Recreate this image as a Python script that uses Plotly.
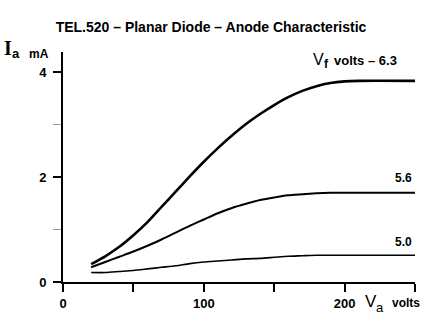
import plotly.graph_objects as go

# Anode voltage (V) and anode current (mA) for three filament voltages
va_63 = [20, 30, 40, 50, 60, 70, 80, 90, 100, 110, 120, 130, 140, 150, 160, 170, 180, 190, 200, 210, 250]
ia_63 = [0.34, 0.49, 0.67, 0.89, 1.14, 1.43, 1.72, 2.01, 2.29, 2.55, 2.79, 3.01, 3.20, 3.37, 3.52, 3.64, 3.73, 3.79, 3.82, 3.83, 3.83]

va_56 = [20, 30, 40, 50, 60, 70, 80, 90, 100, 110, 120, 130, 140, 150, 160, 170, 180, 190, 250]
ia_56 = [0.28, 0.38, 0.48, 0.58, 0.69, 0.81, 0.94, 1.07, 1.19, 1.31, 1.41, 1.49, 1.56, 1.61, 1.65, 1.67, 1.69, 1.70, 1.70]

va_50 = [20, 30, 40, 50, 60, 70, 80, 90, 100, 110, 120, 130, 140, 150, 160, 170, 180, 250]
ia_50 = [0.18, 0.18, 0.20, 0.22, 0.25, 0.28, 0.31, 0.35, 0.38, 0.40, 0.42, 0.44, 0.45, 0.47, 0.49, 0.50, 0.51, 0.51]

x_ticks = [0, 50, 100, 150, 200, 250]
x_ticktext = ["0", "", "100", "", "200", ""]
y_ticks = [0, 2, 4]
y_ticktext = ["0", "2", "4"]

SANS = "Liberation Sans, Arial, sans-serif"
SERIF = "Liberation Serif, Times New Roman, serif"

fig = go.Figure()
for va, ia, w in [(va_63, ia_63, 2.6), (va_56, ia_56, 2.0), (va_50, ia_50, 1.6)]:
    fig.add_trace(go.Scatter(x=va, y=ia, mode="lines",
                             line=dict(color="black", width=w, shape="spline", smoothing=0.6),
                             hoverinfo="skip", showlegend=False))

tick_font = dict(family=SANS, size=13, color="black", weight="bold")

fig.update_layout(
    width=434, height=328,
    margin=dict(l=63, r=19, t=52, b=46),
    paper_bgcolor="white", plot_bgcolor="white",
    title=dict(text="TEL.520 – Planar Diode – Anode Characteristic",
               x=211 / 434, xanchor="center", y=1 - 27 / 328, yanchor="middle",
               font=dict(family=SANS, size=14, color="black", weight="bold")),
    xaxis=dict(range=[0, 250], showline=True, linecolor="black", linewidth=2,
               ticks="outside", ticklen=8, tickwidth=1.5, tickcolor="black",
               tickvals=x_ticks, ticktext=x_ticktext, tickfont=tick_font,
               showgrid=False, zeroline=False, fixedrange=True),
    yaxis=dict(range=[0, 4.38], showline=True, linecolor="black", linewidth=2,
               ticks="outside", ticklen=8, tickwidth=1.5, tickcolor="black",
               tickvals=y_ticks, ticktext=y_ticktext, tickfont=tick_font,
               ticklabelstandoff=4,
               minor=dict(tickvals=[1, 3], ticks="outside", ticklen=8,
                          tickwidth=1.2, tickcolor="#9a9a9a"),
               showgrid=False, zeroline=False, fixedrange=True),
)


def label(text, x, y, xshift, yshift, size, family=SANS, bold=True, xanchor="center",
          xref="paper", yref="paper"):
    fig.add_annotation(xref=xref, yref=yref, x=x, y=y, xshift=xshift, yshift=yshift,
                       xanchor=xanchor, yanchor="middle", showarrow=False, text=text,
                       font=dict(family=family, size=size, color="black",
                                 weight="bold" if bold else "normal"))


# Y axis quantity: I_a in mA
label("I", 0, 1, -55, 4, 20, family=SERIF)
label("a", 0, 1, -47, -1, 13)
label("mA", 0, 1, -24, -2, 12)

# X axis quantity: V_a in volts
label("V", 1, 0, -44, -19, 17, bold=False)
label("a", 1, 0, -35, -25, 13, bold=False)
label("volts", 1, 0, -9, -21, 12)

# Filament voltage labels
label("V", 1, 1, -97, -7, 16, bold=False)
label("f", 1, 1, -89, -12, 12)
label("volts – 6.3", 1, 1, -16, -8, 13, xanchor="right")
label("5.6", va_56[-1], ia_56[-1], -1, 15, 12, xanchor="right", xref="x", yref="y")
label("5.0", va_50[-1], ia_50[-1], -1, 13, 12, xanchor="right", xref="x", yref="y")

fig.write_html("out.html")
